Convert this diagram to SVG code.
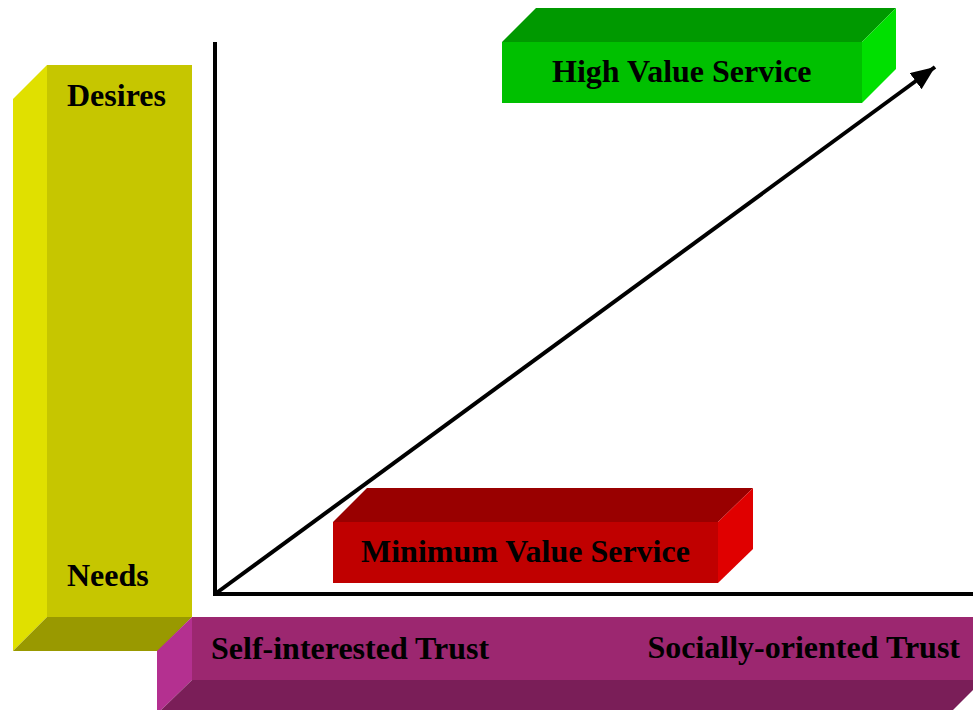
<svg xmlns="http://www.w3.org/2000/svg" width="973" height="710" viewBox="0 0 973 710">
<style>
.lbl{font-family:"Liberation Serif","Times New Roman",serif;font-weight:bold;font-size:32px;fill:#000}
.axis{stroke:#000;stroke-width:4;fill:none}
</style>
<defs>
<marker id="ah" markerUnits="userSpaceOnUse" markerWidth="26" markerHeight="20" refX="24" refY="10" orient="auto">
<path d="M0,0 L24,10 L0,20 Z" fill="#000"/>
</marker>
</defs>
<rect width="973" height="710" fill="#fff"/>
<g id="needs-desires">
<polygon points="13,99 47,65 47,617 13,651" fill="#e0e000"/>
<polygon points="47,617 192,617 158,651 13,651" fill="#999900"/>
<rect x="47" y="65" width="145" height="552" fill="#c6c600"/>
<text class="lbl" x="67" y="106">Desires</text>
<text class="lbl" x="67" y="586">Needs</text>
</g>
<g id="trust">
<polygon points="157,651 192,617 192,680 157,714" fill="#b43090"/>
<polygon points="192,680 983,680 949,714 157,714" fill="#7a1e58"/>
<rect x="192" y="617" width="791" height="63" fill="#9c2770"/>
<text class="lbl" x="211" y="659">Self-interested Trust</text>
<text class="lbl" x="960" y="658" text-anchor="end">Socially-oriented Trust</text>
</g>
<g id="connectors">
<line class="axis" x1="215" y1="42" x2="215" y2="596"/>
<line class="axis" x1="213" y1="594" x2="973" y2="594"/>
<line class="axis" x1="215" y1="594" x2="935" y2="67" marker-end="url(#ah)"/>
</g>
<g id="high-value">
<polygon points="502,42 536,8 896,8 862,42" fill="#009900"/>
<polygon points="862,42 896,8 896,69 862,103" fill="#00e000"/>
<rect x="502" y="42" width="360" height="61" fill="#00c000"/>
<text class="lbl" x="552" y="82">High Value Service</text>
</g>
<g id="min-value">
<polygon points="333,522 367,488 753,488 718,522" fill="#990000"/>
<polygon points="718,522 753,488 753,549 718,583" fill="#e00000"/>
<rect x="333" y="522" width="385" height="61" fill="#c00000"/>
<text class="lbl" x="361" y="562">Minimum Value Service</text>
</g>
</svg>
